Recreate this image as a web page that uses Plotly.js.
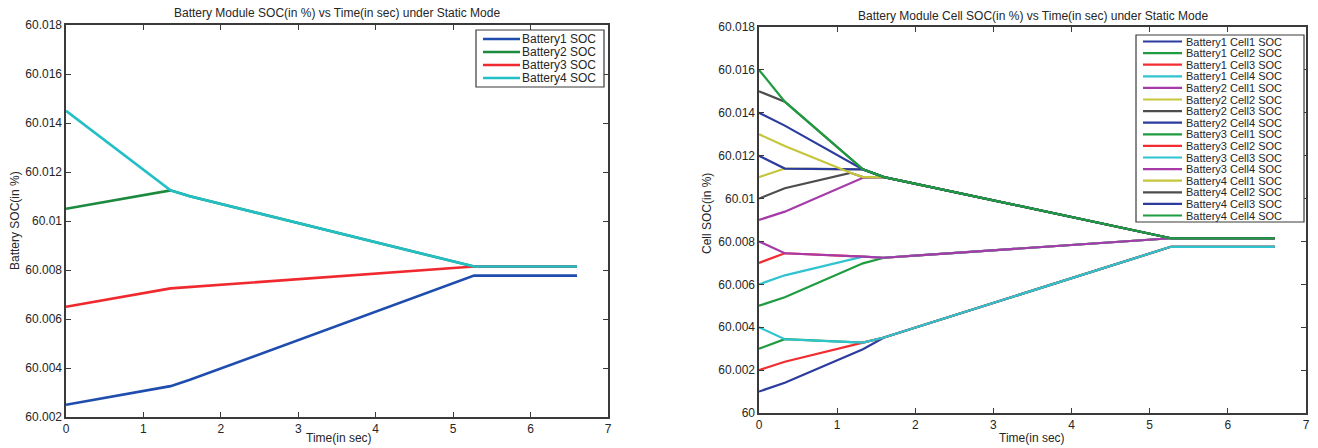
<!DOCTYPE html>
<html>
<head>
<meta charset="utf-8">
<script src="https://cdn.plot.ly/plotly-3.0.1.min.js"></script>
<style>html,body{margin:0;padding:0;background:#fff;}#chart{width:1318px;height:448px;}</style>
</head>
<body>
<div id="chart"></div>
<script>
// ---------- Data: left chart (module SOC) ----------
const moduleNames = ["Battery1 SOC", "Battery2 SOC", "Battery3 SOC", "Battery4 SOC"];
const b1Time = [0, 1.35, 1.6, 5.27, 6.6];
const b1Soc  = [60.0025, 60.00326, 60.00352, 60.00777, 60.00777];
const b2Time = [0, 1.35, 1.6, 5.27, 6.6];
const b2Soc  = [60.0105, 60.01125, 60.01101, 60.00814, 60.00814];
const b3Time = [0, 1.35, 5.27, 6.6];
const b3Soc  = [60.0065, 60.00725, 60.00814, 60.00814];
const b4Time = [0, 1.35, 1.6, 5.27, 6.6];
const b4Soc  = [60.0145, 60.01125, 60.01101, 60.00814, 60.00814];

// ---------- Data: right chart (cell SOC) ----------
const cellNames = [
  "Battery1 Cell1 SOC", "Battery1 Cell2 SOC", "Battery1 Cell3 SOC", "Battery1 Cell4 SOC",
  "Battery2 Cell1 SOC", "Battery2 Cell2 SOC", "Battery2 Cell3 SOC", "Battery2 Cell4 SOC",
  "Battery3 Cell1 SOC", "Battery3 Cell2 SOC", "Battery3 Cell3 SOC", "Battery3 Cell4 SOC",
  "Battery4 Cell1 SOC", "Battery4 Cell2 SOC", "Battery4 Cell3 SOC", "Battery4 Cell4 SOC"
];
const b1c1Time = [0, 0.33, 1.33, 1.6, 5.27, 6.6];
const b1c1Soc  = [60.001, 60.00141, 60.00297, 60.00352, 60.00775, 60.00775];
const b1c2Time = [0, 0.33, 1.33, 1.6, 5.27, 6.6];
const b1c2Soc  = [60.003, 60.00344, 60.00328, 60.00352, 60.00775, 60.00775];
const b1c3Time = [0, 0.33, 1.33, 1.6, 5.27, 6.6];
const b1c3Soc  = [60.002, 60.00239, 60.00328, 60.00352, 60.00775, 60.00775];
const b1c4Time = [0, 0.33, 1.33, 1.6, 5.27, 6.6];
const b1c4Soc  = [60.004, 60.00344, 60.00328, 60.00352, 60.00775, 60.00775];

const b2c1Time = [0, 0.33, 1.33, 1.6, 5.27, 6.6];
const b2c1Soc  = [60.009, 60.00939, 60.01097, 60.0110, 60.00815, 60.00815];
const b2c2Time = [0, 0.33, 1.33, 1.6, 5.27, 6.6];
const b2c2Soc  = [60.011, 60.0114, 60.01136, 60.0110, 60.00815, 60.00815];
const b2c3Time = [0, 0.33, 1.17, 1.33, 1.6, 5.27, 6.6];
const b2c3Soc  = [60.010, 60.01048, 60.0112, 60.0110, 60.0110, 60.00815, 60.00815];
const b2c4Time = [0, 0.33, 1.33, 1.6, 5.27, 6.6];
const b2c4Soc  = [60.012, 60.0114, 60.01136, 60.0110, 60.00815, 60.00815];

const b3c1Time = [0, 0.33, 1.33, 1.6, 5.27, 6.6];
const b3c1Soc  = [60.005, 60.0054, 60.00698, 60.00724, 60.00815, 60.00815];
const b3c2Time = [0, 0.33, 1.33, 1.6, 5.27, 6.6];
const b3c2Soc  = [60.007, 60.00745, 60.00729, 60.00724, 60.00815, 60.00815];
const b3c3Time = [0, 0.33, 1.33, 1.6, 5.27, 6.6];
const b3c3Soc  = [60.006, 60.00642, 60.00729, 60.00724, 60.00815, 60.00815];
const b3c4Time = [0, 0.33, 1.33, 1.6, 5.27, 6.6];
const b3c4Soc  = [60.008, 60.00745, 60.00729, 60.00724, 60.00815, 60.00815];

const b4c1Time = [0, 0.33, 1.17, 1.33, 1.6, 5.27, 6.6];
const b4c1Soc  = [60.013, 60.01245, 60.0112, 60.0110, 60.0110, 60.00815, 60.00815];
const b4c2Time = [0, 0.33, 1.33, 1.6, 5.27, 6.6];
const b4c2Soc  = [60.015, 60.01452, 60.01136, 60.0110, 60.00815, 60.00815];
const b4c3Time = [0, 0.33, 1.33, 1.6, 5.27, 6.6];
const b4c3Soc  = [60.014, 60.0134, 60.01136, 60.0110, 60.00815, 60.00815];
const b4c4Time = [0, 0.33, 1.33, 1.6, 5.27, 6.6];
const b4c4Soc  = [60.016, 60.01452, 60.01136, 60.0110, 60.00815, 60.00815];

// ---------- Tick labels ----------
const leftYTickVals  = [60.002, 60.004, 60.006, 60.008, 60.010, 60.012, 60.014, 60.016, 60.018];
const leftYTickText  = ["60.002", "60.004", "60.006", "60.008", "60.01", "60.012", "60.014", "60.016", "60.018"];
const rightYTickVals = [60, 60.002, 60.004, 60.006, 60.008, 60.010, 60.012, 60.014, 60.016, 60.018];
const rightYTickText = ["60", "60.002", "60.004", "60.006", "60.008", "60.01", "60.012", "60.014", "60.016", "60.018"];
const xTickVals = [0, 1, 2, 3, 4, 5, 6, 7];

// ---------- Styles ----------
const moduleColors = ["#1f4dae", "#1c8a3e", "#f0292e", "#22bfc6"];
const cellColors = [
  "#2b3c9e", "#1f9c3f", "#f22c31", "#2fc3d0",
  "#a53aa8", "#c6c63c", "#4d4d4d", "#2b3c9e",
  "#1f9c3f", "#f22c31", "#2fc3d0", "#a53aa8",
  "#c6c63c", "#4d4d4d", "#2b3c9e", "#1f9c3f"
];

const moduleData = [[b1Time, b1Soc], [b2Time, b2Soc], [b3Time, b3Soc], [b4Time, b4Soc]];
const cellData = [
  [b1c1Time, b1c1Soc], [b1c2Time, b1c2Soc], [b1c3Time, b1c3Soc], [b1c4Time, b1c4Soc],
  [b2c1Time, b2c1Soc], [b2c2Time, b2c2Soc], [b2c3Time, b2c3Soc], [b2c4Time, b2c4Soc],
  [b3c1Time, b3c1Soc], [b3c2Time, b3c2Soc], [b3c3Time, b3c3Soc], [b3c4Time, b3c4Soc],
  [b4c1Time, b4c1Soc], [b4c2Time, b4c2Soc], [b4c3Time, b4c3Soc], [b4c4Time, b4c4Soc]
];

const W = 1318, H = 448;
const px = v => v / W;
const py = v => 1 - v / H;
const FONT = "Liberation Sans, Arial, sans-serif";
const TXT = "#262626";
const AXC = "#3a3a3a";

const traces = [];
moduleData.forEach((d, i) => {
  traces.push({x: d[0], y: d[1], type: "scatter", mode: "lines", name: moduleNames[i],
    xaxis: "x", yaxis: "y", line: {color: moduleColors[i], width: 2.6}, showlegend: false, hoverinfo: "skip"});
});
cellData.forEach((d, i) => {
  traces.push({x: d[0], y: d[1], type: "scatter", mode: "lines", name: cellNames[i],
    xaxis: "x2", yaxis: "y2", line: {color: cellColors[i], width: 2.2}, showlegend: false, hoverinfo: "skip"});
});

const axisCommon = {
  showline: true, linecolor: AXC, linewidth: 1.6, mirror: "ticks",
  ticks: "inside", ticklen: 5, tickcolor: AXC, tickwidth: 1,
  showgrid: false, zeroline: false, fixedrange: true,
  tickfont: {family: FONT, size: 12, color: TXT}
};

const shapes = [];
const annotations = [];

// Titles
annotations.push({text: "Battery Module SOC(in %) vs Time(in sec) under Static Mode", x: px(337), y: py(13),
  xref: "paper", yref: "paper", showarrow: false, xanchor: "center", yanchor: "middle", font: {family: FONT, size: 12, color: TXT}});
annotations.push({text: "Battery Module Cell SOC(in %) vs Time(in sec) under Static Mode", x: px(1033), y: py(16),
  xref: "paper", yref: "paper", showarrow: false, xanchor: "center", yanchor: "middle", font: {family: FONT, size: 12, color: TXT}});
// Axis titles
annotations.push({text: "Time(in sec)", x: px(339), y: py(438), xref: "paper", yref: "paper", showarrow: false,
  xanchor: "center", yanchor: "middle", font: {family: FONT, size: 12, color: TXT}});
annotations.push({text: "Time(in sec)", x: px(1032), y: py(438), xref: "paper", yref: "paper", showarrow: false,
  xanchor: "center", yanchor: "middle", font: {family: FONT, size: 12, color: TXT}});
annotations.push({text: "Battery SOC(in %)", x: px(15), y: py(221), xref: "paper", yref: "paper", showarrow: false,
  textangle: -90, xanchor: "center", yanchor: "middle", font: {family: FONT, size: 12, color: TXT}});
annotations.push({text: "Cell SOC(in %)", x: px(707), y: py(214), xref: "paper", yref: "paper", showarrow: false,
  textangle: -90, xanchor: "center", yanchor: "middle", font: {family: FONT, size: 12, color: TXT}});

// Legend boxes (drawn manually to match compact spacing)
function addLegend(names, colors, box, rowStart, rowGap, lineX0, lineX1, textX, fontSize, lw) {
  shapes.push({type: "rect", xref: "paper", yref: "paper", x0: px(box[0]), x1: px(box[1]), y0: py(box[2]), y1: py(box[3]),
    line: {color: AXC, width: 1.2}, fillcolor: "#ffffff", layer: "above"});
  names.forEach((n, i) => {
    const yy = rowStart + i * rowGap;
    shapes.push({type: "line", xref: "paper", yref: "paper", x0: px(lineX0), x1: px(lineX1), y0: py(yy), y1: py(yy),
      line: {color: colors[i], width: lw}, layer: "above"});
    annotations.push({text: n, x: px(textX), y: py(yy), xref: "paper", yref: "paper", showarrow: false,
      xanchor: "left", yanchor: "middle", borderpad: 0, font: {family: FONT, size: fontSize, color: TXT}});
  });
}
addLegend(moduleNames, moduleColors, [476, 604, 30, 87], 39, 13, 483, 520, 521, 12, 2.6);
addLegend(cellNames, cellColors, [1136, 1304, 35, 222], 41.5, 11.6, 1143, 1182, 1185, 11, 2.2);

const layout = {
  width: W, height: H,
  margin: {l: 0, r: 0, t: 0, b: 0, pad: 0},
  paper_bgcolor: "#ffffff", plot_bgcolor: "#ffffff",
  showlegend: false,
  xaxis: Object.assign({}, axisCommon, {domain: [px(66), px(608)], range: [0, 7], tickvals: xTickVals, anchor: "y"}),
  yaxis: Object.assign({}, axisCommon, {domain: [py(417), py(25)], range: [60.002, 60.018], tickvals: leftYTickVals, ticktext: leftYTickText, anchor: "x"}),
  xaxis2: Object.assign({}, axisCommon, {domain: [px(759), px(1306)], range: [0, 7], tickvals: xTickVals, anchor: "y2"}),
  yaxis2: Object.assign({}, axisCommon, {domain: [py(413), py(27)], range: [60, 60.018], tickvals: rightYTickVals, ticktext: rightYTickText, anchor: "x2"}),
  shapes: shapes,
  annotations: annotations
};

Plotly.newPlot("chart", traces, layout, {displayModeBar: false, staticPlot: true});
</script>
</body>
</html>
